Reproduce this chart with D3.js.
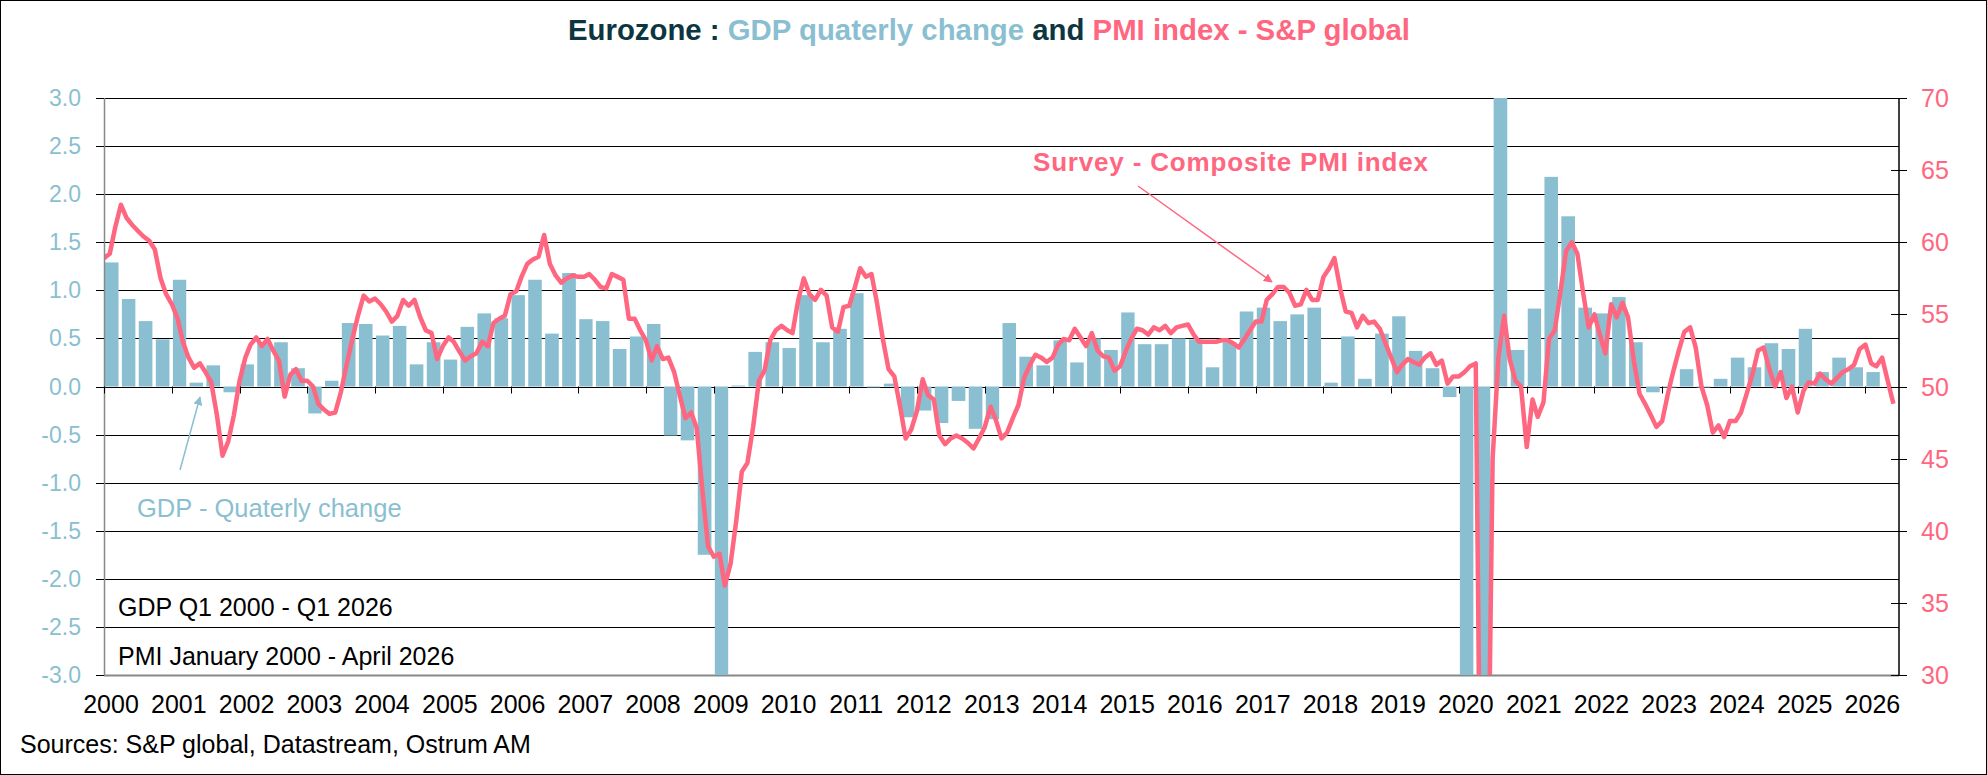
<!DOCTYPE html>
<html>
<head>
<meta charset="utf-8">
<script src="https://cdn.jsdelivr.net/npm/d3@7"></script>
<style>
  body { margin: 0; background: #fff; }
  text { font-family: "Liberation Sans", Arial, sans-serif; }
</style>
</head>
<body>
<div id="chart"></div>
<script>
var svgWidth = 1987;
var svgHeight = 775;

// GDP quarterly change, Q1 2000 - Q1 2026
var gdpValues = [
    1.29, 0.91, 0.68, 0.49,   1.11, 0.04, 0.22, -0.06,
    0.23, 0.46, 0.46, 0.19,   -0.28, 0.06, 0.66, 0.65,
    0.53, 0.63, 0.23, 0.46,   0.28, 0.62, 0.76, 0.71,
    0.95, 1.11, 0.55, 1.18,   0.70, 0.68, 0.39, 0.52,
    0.65, -0.51, -0.56, -1.75, -3.1, 0.01, 0.36, 0.46,
    0.40, 0.95, 0.46, 0.60,   0.97, -0.01, 0.03, -0.32,
    -0.25, -0.38, -0.15, -0.44, -0.34, 0.66, 0.31, 0.22,
    0.48, 0.25, 0.50, 0.38,   0.77, 0.44, 0.44, 0.50,
    0.49, 0.20, 0.46, 0.78,   0.82, 0.68, 0.75, 0.82,
    0.04, 0.52, 0.08, 0.55,   0.73, 0.37, 0.19, -0.11,
    -3.6, -11.1, 12.5, 0.38,  0.81, 2.18, 1.77, 0.82,
    0.76, 0.93, 0.46, -0.06,  -0.01, 0.18, -0.01, 0.08,
    0.30, 0.20, 0.45, 0.39,   0.60, 0.15, 0.30, 0.20,
    0.15
];

// Composite PMI, monthly from January 2000
var pmiValues = [
    58.9, 59.2, 61.0, 62.6, 61.7, 61.2, 60.8, 60.4, 60.1, 59.5, 57.5, 56.4, // 2000
    55.7, 54.7, 53.1, 52.0, 51.3, 51.6, 51.0, 50.3, 48.0, 45.2, 46.2, 48.0, // 2001
    50.4, 52.0, 52.9, 53.4, 52.8, 53.3, 52.5, 51.8, 49.3, 50.8, 51.2, 50.4, // 2002
    50.4, 50.0, 48.8, 48.4, 48.1, 48.2, 49.6, 51.5, 53.3, 54.9, 56.3, 55.9, // 2003
    56.1, 55.7, 55.2, 54.5, 54.9, 56.0, 55.6, 56.0, 54.8, 53.9, 53.7, 51.9, // 2004
    52.8, 53.4, 53.1, 52.4, 51.8, 52.1, 52.3, 53.1, 52.8, 54.4, 54.7, 54.9, // 2005
    56.4, 56.6, 57.6, 58.5, 58.8, 59.0, 60.5, 58.5, 57.7, 57.2, 57.5, 57.7, // 2006
    57.6, 57.6, 57.8, 57.4, 56.9, 56.8, 57.8, 57.6, 57.4, 54.7, 54.7, 53.9, // 2007
    53.2, 51.8, 52.8, 51.9, 52.0, 51.0, 49.4, 47.8, 48.2, 47.1, 42.7, 38.9, // 2008
    38.2, 38.4, 36.2, 37.7, 40.6, 44.1, 44.7, 47.2, 50.4, 51.1, 53.2, 53.9, // 2009
    54.2, 53.9, 53.7, 56.0, 57.5, 56.4, 56.0, 56.7, 56.3, 54.1, 53.8, 55.5, // 2010
    55.6, 56.9, 58.2, 57.6, 57.8, 55.7, 53.3, 51.2, 50.7, 48.7, 46.4, 47.0, // 2011
    48.3, 50.5, 49.4, 49.1, 46.6, 46.0, 46.4, 46.6, 46.4, 46.1, 45.7, 46.4, // 2012
    47.2, 48.6, 47.7, 46.4, 46.8, 47.8, 48.7, 50.6, 51.5, 52.2, 52.0, 51.7, // 2013
    52.0, 52.9, 53.3, 53.2, 54.0, 53.4, 52.8, 53.7, 52.5, 52.1, 52.0, 51.1, // 2014
    51.4, 52.5, 53.3, 54.0, 53.9, 53.6, 54.1, 53.9, 54.2, 53.7, 54.1, 54.2, // 2015
    54.3, 53.6, 53.1, 53.1, 53.1, 53.1, 53.2, 53.2, 53.0, 52.7, 53.3, 53.9, // 2016
    54.5, 54.5, 56.0, 56.4, 56.9, 56.9, 56.5, 55.6, 55.7, 56.7, 56.0, 56.0, // 2017
    57.6, 58.2, 58.9, 56.8, 55.2, 55.1, 54.1, 54.9, 54.4, 54.5, 54.0, 53.0, // 2018
    52.0, 51.0, 51.5, 51.9, 51.7, 51.5, 52.0, 52.3, 51.5, 51.8, 50.2, 50.7, // 2019
    50.7, 51.0, 51.4, 51.6, 13.6, 15.0, 45.0, 52.0, 54.9, 51.9, 50.4, 50.0, // 2020
    45.8, 49.1, 47.9, 48.9, 53.3, 53.9, 56.5, 59.4, 60.0, 59.2, 56.5, 54.1, // 2021
    55.0, 53.5, 52.3, 55.7, 54.8, 55.8, 54.8, 51.8, 49.5, 48.8, 48.0, 47.2, // 2022
    47.6, 49.5, 51.0, 52.5, 53.8, 54.1, 52.7, 50.0, 48.7, 46.8, 47.3, 46.5, // 2023
    47.6, 47.6, 48.2, 49.5, 50.8, 52.5, 52.7, 51.2, 50.0, 51.0, 49.2, 50.0, // 2024
    48.2, 49.7, 50.3, 50.2, 50.9, 50.5, 50.2, 50.6, 51.0, 51.2, 51.5, 52.6, // 2025
    52.9, 51.6, 51.4, 52.0, 50.4, 48.8                                      // 2026
];

var years = d3.range(2000, 2027);
var leftTicks = d3.range(-3, 3.01, 0.5);
var rightTicks = d3.range(30, 71, 5);

var plot = { left: 104, right: 1899, top: 98, bottom: 675 };
var blue = "#8abfd1";
var pink = "#ff6680";

var svg = d3.select("#chart")
    .append("svg")
    .attr("width", svgWidth)
    .attr("height", svgHeight);

// outer frame
svg.append("rect")
    .attr("x", 0.5).attr("y", 0.5)
    .attr("width", svgWidth - 1).attr("height", svgHeight - 1)
    .attr("fill", "none").attr("stroke", "#000");

var xScale = d3.scaleTime()
    .domain([new Date(2000, 0, 1), new Date(2026, 6, 1)])
    .range([plot.left, plot.right]);

var yLeft = d3.scaleLinear().domain([-3, 3]).range([plot.bottom, plot.top]);
var yRight = d3.scaleLinear().domain([30, 70]).range([plot.bottom, plot.top]);

svg.append("clipPath").attr("id", "clip")
    .append("rect")
    .attr("x", plot.left).attr("y", plot.top)
    .attr("width", plot.right - plot.left).attr("height", plot.bottom - plot.top);

// gridlines
svg.append("g")
    .selectAll("line")
    .data(leftTicks)
    .enter()
    .append("line")
    .attr("x1", plot.left).attr("x2", plot.right)
    .attr("y1", d => Math.round(yLeft(d)) + 0.5)
    .attr("y2", d => Math.round(yLeft(d)) + 0.5)
    .attr("stroke", d => d === -3 ? "#888" : "#000")
    .attr("stroke-width", d => d === -3 ? 2 : 1);

// GDP bars
var chartGroup = svg.append("g").attr("clip-path", "url(#clip)");

chartGroup.selectAll("rect")
    .data(gdpValues)
    .enter()
    .append("rect")
    .attr("x", function(d, i) { return xScale(new Date(2000, i * 3, 1)) + 1; })
    .attr("width", function(d, i) {
        return (xScale(new Date(2000, i * 3 + 3, 1)) - xScale(new Date(2000, i * 3, 1))) * 0.8;
    })
    .attr("y", d => yLeft(Math.max(0, d)))
    .attr("height", d => Math.abs(yLeft(d) - yLeft(0)))
    .attr("fill", blue);

// PMI line
var line = d3.line()
    .x(function(d, i) { return xScale(new Date(2000, i, 1)); })
    .y(d => yRight(d));

chartGroup.append("path")
    .datum(pmiValues)
    .attr("d", line)
    .attr("fill", "none")
    .attr("stroke", pink)
    .attr("stroke-width", 4.5)
    .attr("stroke-linejoin", "round");

// left axis
svg.append("line")
    .attr("x1", plot.left + 0.5).attr("x2", plot.left + 0.5)
    .attr("y1", plot.top).attr("y2", plot.bottom)
    .attr("stroke", "#888").attr("stroke-width", 1.5);

var leftAxis = svg.append("g");
leftAxis.selectAll("line")
    .data(leftTicks).enter().append("line")
    .attr("x1", 96).attr("x2", plot.left)
    .attr("y1", d => Math.round(yLeft(d)) + 0.5)
    .attr("y2", d => Math.round(yLeft(d)) + 0.5)
    .attr("stroke", "#000");
leftAxis.selectAll("text")
    .data(leftTicks).enter().append("text")
    .attr("x", 81)
    .attr("y", d => yLeft(d) + 8)
    .attr("text-anchor", "end")
    .attr("font-size", 23)
    .attr("fill", blue)
    .text(d => d.toFixed(1));

// right axis
svg.append("line")
    .attr("x1", plot.right).attr("x2", plot.right)
    .attr("y1", plot.top).attr("y2", plot.bottom)
    .attr("stroke", "#000").attr("stroke-width", 1.5);

var rightAxis = svg.append("g");
rightAxis.selectAll("line")
    .data(rightTicks).enter().append("line")
    .attr("x1", plot.right - 8).attr("x2", plot.right + 8)
    .attr("y1", d => Math.round(yRight(d)) + 0.5)
    .attr("y2", d => Math.round(yRight(d)) + 0.5)
    .attr("stroke", "#000");
rightAxis.selectAll("text")
    .data(rightTicks).enter().append("text")
    .attr("x", 1921)
    .attr("y", d => yRight(d) + 9)
    .attr("font-size", 25)
    .attr("fill", pink)
    .text(d => d);

// year ticks on the zero line, labels at the bottom
var xAxis = svg.append("g");
xAxis.selectAll("line")
    .data(years).enter().append("line")
    .attr("x1", d => Math.round(xScale(new Date(d, 0, 1))) + 0.5)
    .attr("x2", d => Math.round(xScale(new Date(d, 0, 1))) + 0.5)
    .attr("y1", yLeft(0)).attr("y2", yLeft(0) + 7)
    .attr("stroke", "#000");
xAxis.selectAll("text")
    .data(years).enter().append("text")
    .attr("x", d => xScale(new Date(d, 0, 1)) + 7)
    .attr("y", 713)
    .attr("text-anchor", "middle")
    .attr("font-size", 25)
    .attr("fill", "#000")
    .text(d => d);

// title
var title = svg.append("text")
    .attr("x", 989).attr("y", 40)
    .attr("text-anchor", "middle")
    .attr("font-size", 30)
    .attr("font-weight", "bold")
    .attr("textLength", 842)
    .attr("lengthAdjust", "spacingAndGlyphs")
    .style("font-family", "'Liberation Sans Narrow', 'Liberation Sans', Arial, sans-serif");
title.append("tspan").attr("fill", "#0d3640").text("Eurozone : ");
title.append("tspan").attr("fill", blue).text("GDP quaterly change");
title.append("tspan").attr("fill", "#0d3640").text(" and ");
title.append("tspan").attr("fill", pink).text("PMI index - S&P global");

// notes
svg.append("text").attr("x", 118).attr("y", 616)
    .attr("font-size", 25).text("GDP Q1 2000 - Q1 2026");
svg.append("text").attr("x", 118).attr("y", 665)
    .attr("font-size", 25).text("PMI January 2000 - April 2026");
svg.append("text").attr("x", 20).attr("y", 753)
    .attr("font-size", 25).text("Sources: S&P global, Datastream, Ostrum AM");

// annotations with arrows
var defs = svg.append("defs");
[["arrowPink", pink], ["arrowBlue", blue]].forEach(function(a) {
    defs.append("marker")
        .attr("id", a[0])
        .attr("viewBox", "0 0 10 10")
        .attr("refX", 9).attr("refY", 5)
        .attr("markerWidth", 6).attr("markerHeight", 6)
        .attr("orient", "auto")
        .append("path").attr("d", "M0,0 L10,5 L0,10 z").attr("fill", a[1]);
});

svg.append("text").attr("x", 1033).attr("y", 171)
    .attr("font-size", 26).attr("font-weight", "bold").attr("fill", pink)
    .attr("textLength", 395).attr("lengthAdjust", "spacing")
    .text("Survey - Composite PMI index");
svg.append("line")
    .attr("x1", 1138).attr("y1", 186).attr("x2", 1272).attr("y2", 282)
    .attr("stroke", pink).attr("stroke-width", 1.5)
    .attr("marker-end", "url(#arrowPink)");

svg.append("text").attr("x", 137).attr("y", 517)
    .attr("font-size", 25.5).attr("fill", blue)
    .text("GDP - Quaterly change");
svg.append("line")
    .attr("x1", 180).attr("y1", 470).attr("x2", 200).attr("y2", 397)
    .attr("stroke", blue).attr("stroke-width", 1.5)
    .attr("marker-end", "url(#arrowBlue)");
</script>
</body>
</html>
